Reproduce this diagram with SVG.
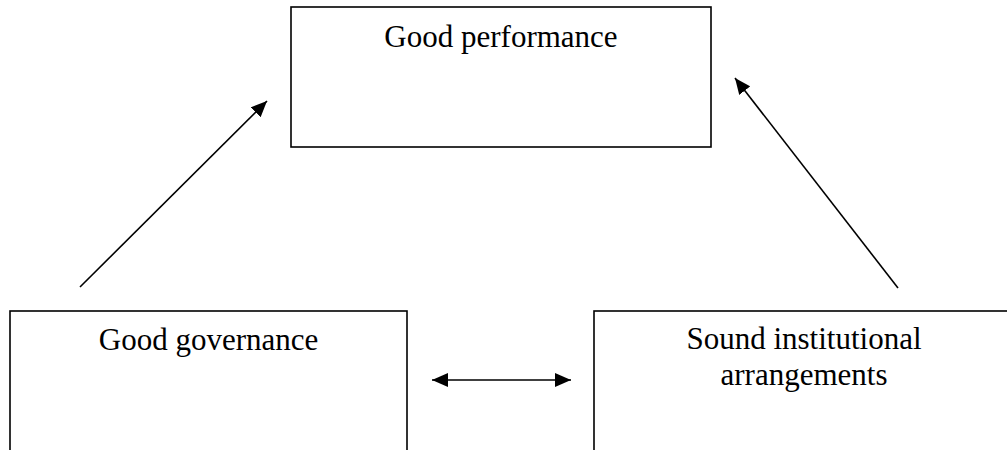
<svg xmlns="http://www.w3.org/2000/svg" width="1007" height="450" viewBox="0 0 1007 450">
<style>
.box{fill:#fff;stroke:#000;stroke-width:1.6}
.lbl{font-family:"Liberation Serif","Times New Roman",serif;font-size:31px;fill:#000;text-anchor:middle}
.conn{stroke:#000;stroke-width:1.6;fill:none}
</style>
<defs>
<marker id="ah" viewBox="0 0 16 14" refX="16" refY="7" markerWidth="16" markerHeight="14" markerUnits="userSpaceOnUse" orient="auto-start-reverse">
<path d="M0,0 L16,7 L0,14 z" fill="#000"/>
</marker>
</defs>
<rect width="1007" height="450" fill="#fff"/>
<g id="node-performance">
<rect class="box" x="291" y="7" width="420" height="140"/>
<text class="lbl" x="501" y="47">Good performance</text>
</g>
<g id="node-governance">
<rect class="box" x="10" y="311" width="397" height="160"/>
<text class="lbl" x="208.5" y="350">Good governance</text>
</g>
<g id="node-institutional">
<rect class="box" x="594" y="311" width="430" height="160"/>
<text class="lbl" x="804" y="349">Sound institutional</text>
<text class="lbl" x="804" y="385">arrangements</text>
</g>
<g id="connectors">
<line class="conn" x1="80" y1="287" x2="267" y2="101" marker-end="url(#ah)"/>
<line class="conn" x1="898" y1="288" x2="735" y2="78" marker-end="url(#ah)"/>
<line class="conn" x1="432" y1="380" x2="571" y2="380" stroke-width="2.2" marker-start="url(#ah)" marker-end="url(#ah)"/>
</g>
</svg>
